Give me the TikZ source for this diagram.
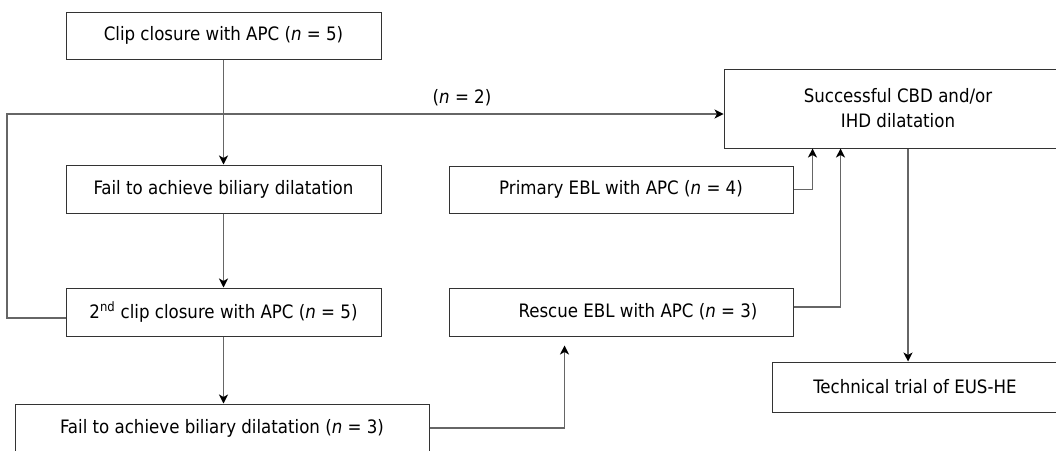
\documentclass[tikz,border=0pt]{standalone}
\usepackage{fontspec}
\setmainfont{DejaVu Sans Condensed}
\usetikzlibrary{calc,arrows.meta}
\newcommand{\ncount}{\textit{n}}
\tikzset{%
  box/.style = { draw=black!80, line width=1pt, inner sep=0pt, align=center, font=\fontsize{18.5}{25}\selectfont },
  wide/.style = { box, minimum width=315, minimum height=48 },
  mid/.style = { box, minimum width=344, minimum height=48 },
  link/.style = { draw=black!60, line width=1.1pt },
  tip/.style = { -{Stealth[length=9pt,width=9pt,inset=2.5pt,black]} },
  count/.style = { font=\fontsize{18.5}{25}\selectfont }
}

\begin{document}
\begin{tikzpicture}[x=1pt,y=-1pt]

  \useasboundingbox (0,0) rectangle (1056,450);
  \clip (0,0) rectangle (1056,450);

  % Left column
  \node[wide,minimum height=47] (clip1) at (223.5,35.5) {Clip closure with APC (\ncount{} = 5)};
  \node[wide] (fail1) at (223.5,189) {Fail to achieve biliary dilatation};
  \node[wide] (clip2) at (223.5,312) {2\textsuperscript{nd} clip closure with APC (\ncount{} = 5)};
  \node[box,minimum width=414,minimum height=48] (fail2) at (222,428) {Fail to achieve biliary dilatation (\ncount{} = 3)};

  % Middle column
  \node[mid,minimum height=47] (primary) at (621,189.5) {Primary EBL with APC (\ncount{} = 4)};
  \node[mid] (rescue) at (621,312) {\hspace{34pt}Rescue EBL with APC (\ncount{} = 3)};

  % Right column
  \node[box,minimum width=348,minimum height=79] (succ) at (898,108.5) {Successful CBD and/or\\IHD dilatation};
  \node[box,minimum width=286,minimum height=50] (tech) at (915,387) {Technical trial of EUS-HE};

  % Connectors
  \draw[link,tip] (clip1.south) -- (fail1.north);
  \draw[link,tip] (fail1.south) -- (clip2.north);
  \draw[link,tip] (clip2.south) -- (clip2.south |- fail2.north);

  \coordinate (loop) at (7,114);
  \draw[link,tip] ($(clip2.west)+(0,6)$) -| (loop) -- (loop -| succ.west);
  \node[count] (two) at (462,98) {(\ncount{} = 2)};

  \draw[link,tip] (primary.east) -| ($(succ.south west)+(89,0)$);
  \draw[link,tip] ($(rescue.east)+(0,-5)$) -| ($(succ.south west)+(117,0)$);
  \draw[link,tip,shorten >=9pt] (fail2.east) -| ($(rescue.south west)+(116,0)$);

  \coordinate (down) at ($(succ.south)+(10,0)$);
  \draw[link,tip] (down) -- (down |- tech.north);

\end{tikzpicture}
\end{document}
